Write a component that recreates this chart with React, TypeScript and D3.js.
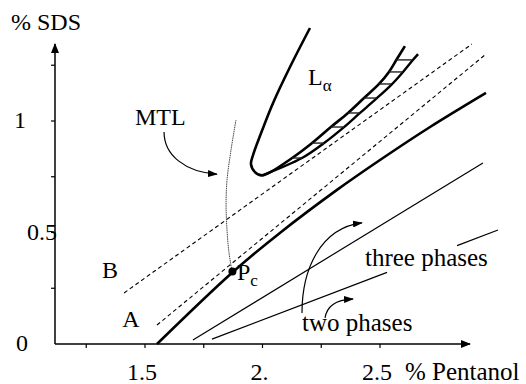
import React from "react";
import * as d3 from "d3";

// Phase diagram, values as (% Pentanol, % SDS)
const criticalLine: [number, number][] = [
  [1.551, 0], [1.874, 0.323], [2.074, 0.498], [2.317, 0.691],
  [2.5, 0.825], [2.713, 0.973], [2.951, 1.126],
];
const dashedB: [number, number][] = [[1.411, 0.229], [2.891, 1.345]];
const dashedA: [number, number][] = [[1.551, 0.085], [2.951, 1.3]];
const threePhaseUpper: [number, number][] = [[1.704, 0.018], [2.938, 0.812]];
const threePhaseLower: [number, number][] = [[1.785, 0.022], [3.002, 0.511]];
// part of the lower line hidden by the "three phases" label
const labelGap = [2.53, 2.828];
const lamellarOuter: [number, number][] = [
  [2.202, 1.417], [2.117, 1.242], [2.045, 1.081], [1.994, 0.946], [1.96, 0.848],
  [1.951, 0.807], [1.968, 0.771], [1.998, 0.756], [2.126, 0.834], [2.211, 0.901],
  [2.291, 0.973], [2.364, 1.036], [2.432, 1.103], [2.496, 1.166], [2.538, 1.22],
  [2.572, 1.278], [2.606, 1.336],
];
const lamellarInner: [number, number][] = [
  [1.998, 0.756], [2.168, 0.834], [2.262, 0.901], [2.343, 0.969], [2.415, 1.036],
  [2.483, 1.099], [2.547, 1.161], [2.598, 1.22], [2.636, 1.269], [2.662, 1.3],
];
// hatch segments: [x start, x end, y]
const hatch: [number, number, number][] = [
  [2.126, 2.168, 0.834], [2.211, 2.262, 0.901], [2.291, 2.347, 0.973],
  [2.364, 2.415, 1.036], [2.432, 2.487, 1.103], [2.496, 2.547, 1.166],
  [2.538, 2.598, 1.22], [2.568, 2.636, 1.274],
];
const mtlLine: [number, number][] = [
  [1.887, 1.004], [1.866, 0.87], [1.849, 0.735], [1.845, 0.623],
  [1.849, 0.511], [1.857, 0.413], [1.87, 0.327],
];
const pc: [number, number] = [1.872, 0.325];

// annotation arrows, cubic bezier control points
const arrows: [number, number][][] = [
  [[1.581, 0.951], [1.581, 0.848], [1.67, 0.771], [1.806, 0.762]],
  [[2.168, 0.139], [2.168, 0.332], [2.245, 0.52], [2.423, 0.543]],
  [[2.266, 0.117], [2.274, 0.17], [2.309, 0.197], [2.385, 0.202]],
];

const xTicks = [1.25, 1.5, 1.75, 2, 2.25, 2.5];
const xTickLabels = [[1.5, "1.5"], [2, "2."], [2.5, "2.5"]] as [number, string][];
const yTicks = [0.25, 0.5, 0.75, 1, 1.25];
const yTickLabels = [[0, "0"], [0.5, "0.5"], [1, "1"]] as [number, string][];
const xRange = [1.117, 2.883];
const yTop = 1.345;

const font = "Liberation Serif, DejaVu Serif, serif";

export default function App() {
  const x = d3.scaleLinear().domain([1.5, 2.5]).range([145, 380]);
  const y = d3.scaleLinear().domain([0, 1]).range([344, 121]);

  const straight = d3.line<[number, number]>().x((d) => x(d[0])).y((d) => y(d[1]));
  const smooth = d3
    .line<[number, number]>()
    .x((d) => x(d[0]))
    .y((d) => y(d[1]))
    .curve(d3.curveCatmullRom.alpha(0.5));

  const bezier = (p: [number, number][]) => {
    const path = d3.path();
    path.moveTo(x(p[0][0]), y(p[0][1]));
    path.bezierCurveTo(x(p[1][0]), y(p[1][1]), x(p[2][0]), y(p[2][1]), x(p[3][0]), y(p[3][1]));
    return path.toString();
  };

  // split the lower three-phase line around its label
  const lowerAt = d3
    .scaleLinear()
    .domain([threePhaseLower[0][0], threePhaseLower[1][0]])
    .range([threePhaseLower[0][1], threePhaseLower[1][1]]);
  const lowerParts: [number, number][][] = [
    [threePhaseLower[0], [labelGap[0], lowerAt(labelGap[0])]],
    [[labelGap[1], lowerAt(labelGap[1])], threePhaseLower[1]],
  ];

  const yLabelX: Record<string, number> = { "0": 22, "0.5": 42, "1": 20 };
  const txt = { fontFamily: font };

  return (
    <svg
      width={526}
      height={384}
      style={{ position: "absolute", left: 0, top: 0, background: "#fff" }}
    >
      <defs>
        <marker id="head" viewBox="0 0 10 7" refX="9" refY="3.5" markerWidth="10" markerHeight="7"
          markerUnits="userSpaceOnUse" orient="auto">
          <path d="M0,0 L10,3.5 L0,7 z" fill="#000" />
        </marker>
        <marker id="axhead" viewBox="0 0 10 8" refX="9" refY="4" markerWidth="11" markerHeight="8"
          markerUnits="userSpaceOnUse" orient="auto">
          <path d="M0,0 L10,4 L0,8 z" fill="#000" />
        </marker>
      </defs>

      {/* axes */}
      <line x1={x(xRange[0])} x2={x(xRange[1])} y1={y(0)} y2={y(0)} stroke="#000" strokeWidth={1.5}
        markerEnd="url(#axhead)" />
      <line x1={x(xRange[0])} x2={x(xRange[0])} y1={y(0)} y2={y(yTop)} stroke="#000" strokeWidth={1.5}
        markerEnd="url(#axhead)" />
      {xTicks.map((t) => (
        <line key={t} x1={x(t)} x2={x(t)} y1={y(0)} y2={y(0) + 4} stroke="#000" strokeWidth={1.2} />
      ))}
      {yTicks.map((t) => (
        <line key={t} x1={x(xRange[0]) - 4} x2={x(xRange[0])} y1={y(t)} y2={y(t)} stroke="#000" strokeWidth={1.2} />
      ))}
      {xTickLabels.map(([v, t]) => (
        <text key={t} style={txt} x={x(v) - 3} y={380} fontSize={24} textAnchor="middle">{t}</text>
      ))}
      {yTickLabels.map(([v, t]) => (
        <text key={t} style={txt} x={yLabelX[t]} y={y(v) + 7} fontSize={24} textAnchor="middle">{t}</text>
      ))}
      <text style={txt} x={11} y={30} fontSize={24}>% SDS</text>
      <text style={txt} x={405} y={380} fontSize={25}>% Pentanol</text>

      {/* phase boundaries */}
      <path d={straight(dashedB) ?? ""} fill="none" stroke="#000" strokeWidth={1.1} strokeDasharray="4,3" />
      <path d={straight(dashedA) ?? ""} fill="none" stroke="#000" strokeWidth={1.1} strokeDasharray="4,3" />
      <path d={straight(threePhaseUpper) ?? ""} fill="none" stroke="#000" strokeWidth={1.2} />
      {lowerParts.map((p, i) => (
        <path key={i} d={straight(p) ?? ""} fill="none" stroke="#000" strokeWidth={1.2} />
      ))}
      <path d={smooth(criticalLine) ?? ""} fill="none" stroke="#000" strokeWidth={2.6} />
      <path d={smooth(lamellarOuter) ?? ""} fill="none" stroke="#000" strokeWidth={2.6} />
      <path d={smooth(lamellarInner) ?? ""} fill="none" stroke="#000" strokeWidth={2.4} />
      {hatch.map(([a, b, v], i) => (
        <line key={i} x1={x(a)} x2={x(b)} y1={y(v)} y2={y(v)} stroke="#222" strokeWidth={1.4} />
      ))}
      <path d={smooth(mtlLine) ?? ""} fill="none" stroke="#333" strokeWidth={0.9} strokeDasharray="1.5,0.7" />
      <circle cx={x(pc[0])} cy={y(pc[1])} r={4} fill="#000" />

      {/* annotation arrows */}
      {arrows.map((a, i) => (
        <path key={i} d={bezier(a)} fill="none" stroke="#000" strokeWidth={1.2} markerEnd="url(#head)" />
      ))}

      {/* labels */}
      <text style={txt} x={x(1.351)} y={y(0.296)} fontSize={24} textAnchor="middle">B</text>
      <text style={txt} x={x(1.44)} y={y(0.076)} fontSize={24} textAnchor="middle">A</text>
      <text style={txt} x={x(1.457)} y={y(0.982)} fontSize={24}>MTL</text>
      <text style={txt} x={x(2.194)} y={y(1.161)} fontSize={24}>
        L<tspan fontSize={17} dy={6}>α</tspan>
      </text>
      <text style={txt} x={x(1.891)} y={y(0.287)} fontSize={24}>
        P<tspan fontSize={17} dy={6}>c</tspan>
      </text>
      <text style={txt} x={x(2.436)} y={y(0.35)} fontSize={25}>three phases</text>
      <text style={txt} x={x(2.168)} y={y(0.058)} fontSize={25}>two phases</text>
    </svg>
  );
}
